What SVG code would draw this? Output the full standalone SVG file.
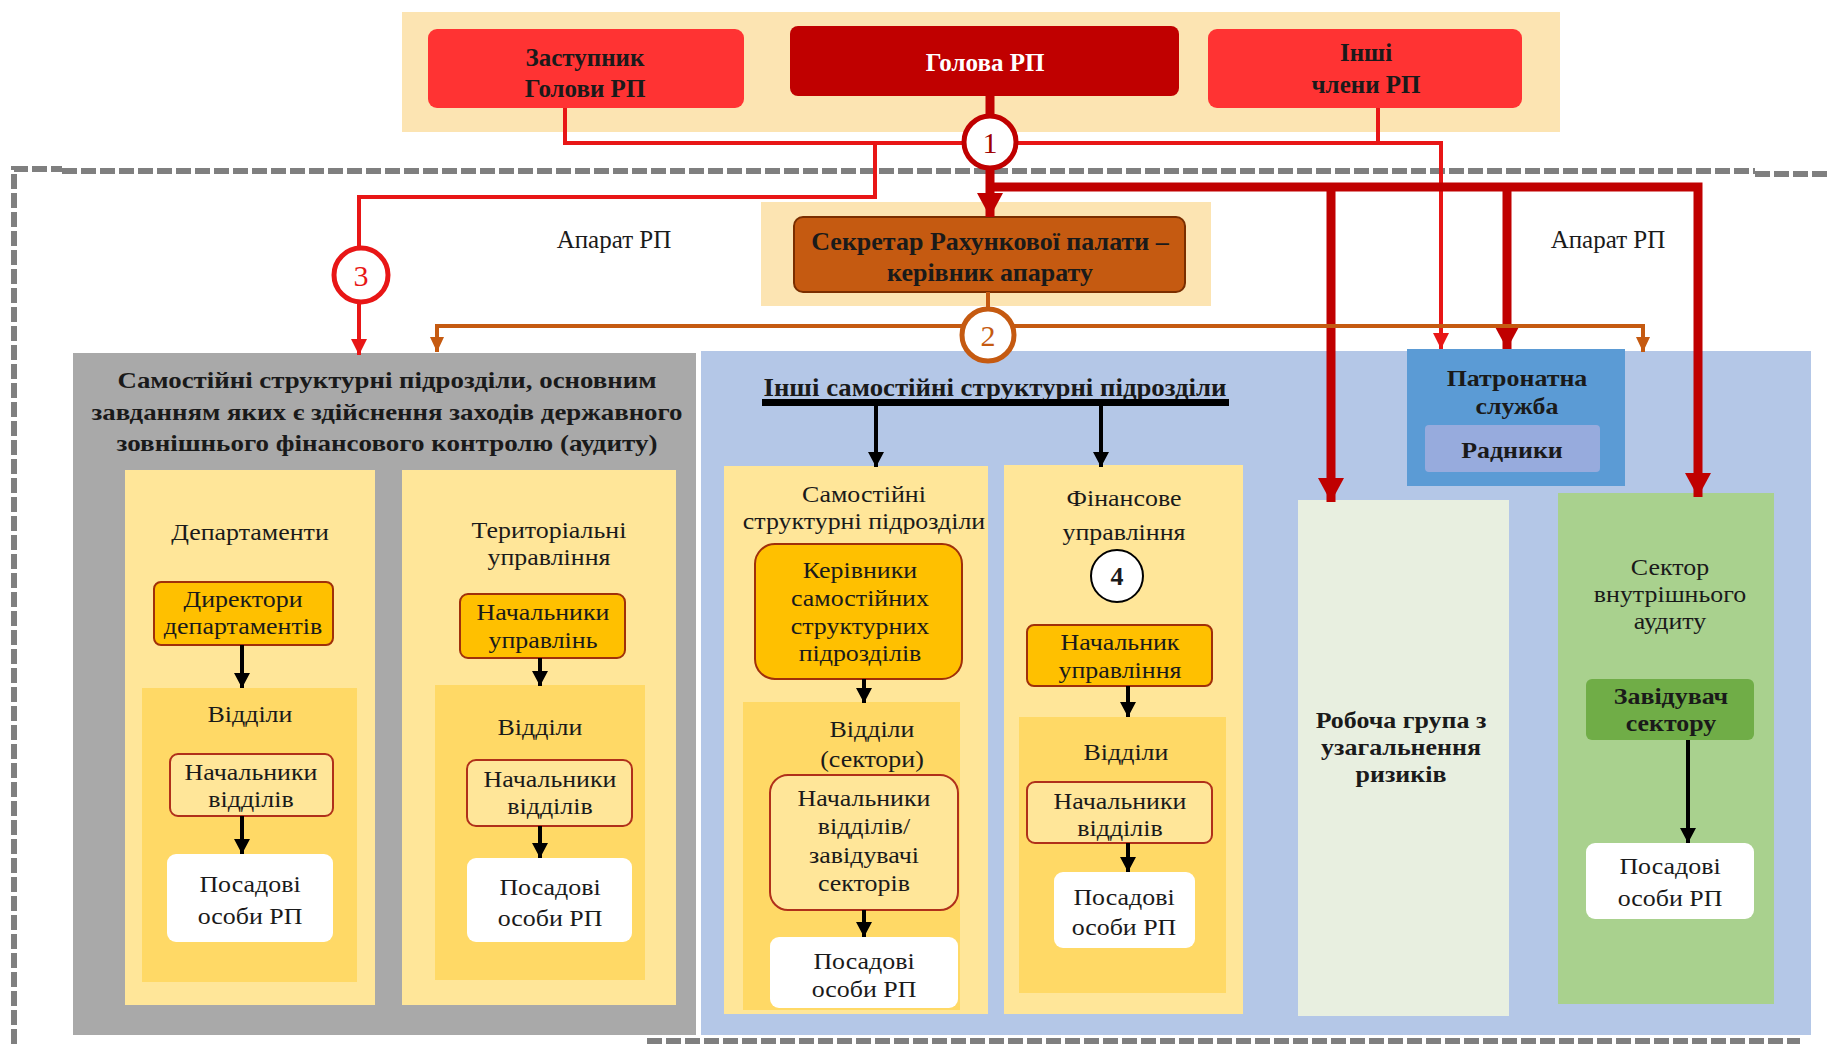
<svg xmlns="http://www.w3.org/2000/svg" width="1829" height="1044" viewBox="0 0 1829 1044">
<style>
text{font-family:"Liberation Serif","Times New Roman",serif;text-anchor:middle;fill:#1a1a1a}
.b{font-weight:bold}
.t25{font-size:25px}
.t26{font-size:26px}
.s{font-size:24px;transform-box:fill-box;transform-origin:center;transform:scaleX(1.08)}
.band{fill:#FCE4B2}
.col{fill:#FFE699}
.inner{fill:#FFD966}
.org{fill:#FFC000;stroke:#A0300A;stroke-width:2}
.head{fill:#FFE699;stroke:#B0301A;stroke-width:2}
.white{fill:#FFFFFF}
.thin{fill:none;stroke:#E81616;stroke-width:4}
.thick{fill:none;stroke:#C00000;stroke-width:9}
.brown{fill:none;stroke:#C55A11;stroke-width:4}
.blk{fill:none;stroke:#000;stroke-width:4}
.dash{fill:none;stroke:#7F7F7F;stroke-width:6;stroke-dasharray:15 4}
</style>
<defs>
<marker id="aThick" markerUnits="userSpaceOnUse" markerWidth="28" markerHeight="28" refX="24" refY="14" orient="auto"><path d="M0,1 L24,14 L0,27 z" fill="#C00000"/></marker>
<marker id="aThin" markerUnits="userSpaceOnUse" markerWidth="18" markerHeight="18" refX="16" refY="9" orient="auto"><path d="M0,1 L16,9 L0,17 z" fill="#E81616"/></marker>
<marker id="aBrown" markerUnits="userSpaceOnUse" markerWidth="16" markerHeight="16" refX="15" refY="8" orient="auto"><path d="M0,1 L15,8 L0,15 z" fill="#C55A11"/></marker>
<marker id="aBlk" markerUnits="userSpaceOnUse" markerWidth="18" markerHeight="18" refX="15" refY="9" orient="auto"><path d="M0,1 L15,9 L0,17 z" fill="#000"/></marker>
</defs>
<rect width="1829" height="1044" fill="#FFFFFF"/>

<!-- dashed frame -->
<g id="apparatus-frame">
<path class="dash" d="M14,1044 L14,169 L62,169 M62,171 L1755,171 M1755,174 L1829,174"/>
<path class="dash" d="M647,1041 L1800,1041"/>
<text class="t25" x="614" y="248">Апарат РП</text>
<text class="t25" x="1608" y="248">Апарат РП</text>
</g>

<!-- top band -->
<rect class="band" x="402" y="12" width="1158" height="120"/>
<rect class="band" x="761" y="202" width="450" height="104"/>

<!-- big panels -->
<rect x="73" y="353" width="623" height="682" fill="#A9A9A9"/>
<rect x="701" y="351" width="1110" height="684" fill="#B4C7E7"/>

<g id="zastupnyk">
<rect x="428" y="29" width="316" height="79" rx="9" fill="#FF3333"/>
<text class="b t25" x="585" y="66" fill="#330000">Заступник</text>
<text class="b t25" x="585" y="97" fill="#330000">Голови РП</text>
</g>
<g id="holova">
<rect x="790" y="26" width="389" height="70" rx="8" fill="#C00000"/>
<text class="b t25" x="985" y="71" style="fill:#FFFFFF">Голова РП</text>
</g>
<g id="inshi-chleny">
<rect x="1208" y="29" width="314" height="79" rx="9" fill="#FF3333"/>
<text class="b t25" x="1366" y="61" fill="#330000">Інші</text>
<text class="b t25" x="1366" y="93" fill="#330000">члени РП</text>
</g>
<g id="sekretar">
<rect x="794" y="217" width="391" height="75" rx="9" fill="#C55A11" stroke="#7A2E00" stroke-width="2"/>
<text class="b t26" x="990" y="250">Секретар Рахункової палати –</text>
<text class="b t26" x="990" y="281">керівник апарату</text>
</g>

<!-- Grey block -->
<g id="audit-units">
<text class="b" font-size="24" x="387" y="388" textLength="539" lengthAdjust="spacingAndGlyphs">Самостійні структурні підрозділи, основним</text>
<text class="b" font-size="24" x="387" y="420" textLength="591" lengthAdjust="spacingAndGlyphs">завданням яких є здійснення заходів державного</text>
<text class="b" font-size="24" x="387" y="451" textLength="541" lengthAdjust="spacingAndGlyphs">зовнішнього фінансового контролю (аудиту)</text>
</g>
<g id="departments">
<rect class="col" x="125" y="470" width="250" height="535"/>
<text class="s" x="250" y="540">Департаменти</text>
<rect class="inner" x="142" y="688" width="215" height="294"/>
<text class="s" x="250" y="722">Відділи</text>
</g>
<g id="dyrektory">
<rect class="org" x="154" y="582" width="179" height="63" rx="7"/>
<text class="s" x="243" y="607">Директори</text>
<text class="s" x="243" y="634">департаментів</text>
</g>
<g id="dep-nachalnyky">
<rect class="head" x="170" y="754" width="163" height="62" rx="8"/>
<text class="s" x="251" y="780">Начальники</text>
<text class="s" x="251" y="807">відділів</text>
</g>
<g id="dep-posadovi">
<rect class="white" x="167" y="854" width="166" height="88" rx="9"/>
<text class="s" x="250" y="892">Посадові</text>
<text class="s" x="250" y="924">особи РП</text>
</g>

<g id="territorial">
<rect class="col" x="402" y="470" width="274" height="535"/>
<text class="s" x="549" y="538">Територіальні</text>
<text class="s" x="549" y="565">управління</text>
<rect class="inner" x="435" y="685" width="210" height="295"/>
<text class="s" x="540" y="735">Відділи</text>
</g>
<g id="nach-upravlin">
<rect class="org" x="460" y="594" width="165" height="64" rx="8"/>
<text class="s" x="543" y="620">Начальники</text>
<text class="s" x="543" y="648">управлінь</text>
</g>
<g id="ter-nachalnyky">
<rect class="head" x="467" y="760" width="165" height="66" rx="9"/>
<text class="s" x="550" y="787">Начальники</text>
<text class="s" x="550" y="814">відділів</text>
</g>
<g id="ter-posadovi">
<rect class="white" x="467" y="858" width="165" height="84" rx="9"/>
<text class="s" x="550" y="895">Посадові</text>
<text class="s" x="550" y="926">особи РП</text>
</g>

<!-- Blue block -->
<g id="other-units">
<text class="b" font-size="25" x="995" y="396" textLength="463" lengthAdjust="spacingAndGlyphs">Інші самостійні структурні підрозділи</text>
<rect x="762" y="399" width="467" height="7" fill="#000"/>
</g>
<g id="samostiini">
<rect class="col" x="724" y="466" width="264" height="548"/>
<text class="s" x="864" y="502">Самостійні</text>
<text class="s" x="864" y="529">структурні підрозділи</text>
<rect class="inner" x="743" y="702" width="217" height="308"/>
<text class="s" x="872" y="737">Відділи</text>
<text class="s" x="872" y="767">(сектори)</text>
</g>
<g id="kerivnyky">
<rect class="org" x="755" y="544" width="207" height="135" rx="20"/>
<text class="s" x="860" y="578">Керівники</text>
<text class="s" x="860" y="606">самостійних</text>
<text class="s" x="860" y="634">структурних</text>
<text class="s" x="860" y="661">підрозділів</text>
</g>
<g id="ss-nachalnyky">
<rect class="head" x="770" y="775" width="188" height="135" rx="18"/>
<text class="s" x="864" y="806">Начальники</text>
<text class="s" x="864" y="834">відділів/</text>
<text class="s" x="864" y="863">завідувачі</text>
<text class="s" x="864" y="891">секторів</text>
</g>
<g id="ss-posadovi">
<rect class="white" x="770" y="937" width="188" height="71" rx="9"/>
<text class="s" x="864" y="969">Посадові</text>
<text class="s" x="864" y="997">особи РП</text>
</g>

<g id="finansove">
<rect class="col" x="1004" y="465" width="239" height="549"/>
<text class="s" x="1124" y="506">Фінансове</text>
<text class="s" x="1124" y="540">управління</text>
<rect class="inner" x="1019" y="717" width="207" height="276"/>
<text class="s" x="1126" y="760">Відділи</text>
<circle cx="1117" cy="576" r="26" fill="#FFFFFF" stroke="#000" stroke-width="2"/>
<text class="b t26" x="1117" y="585">4</text>
</g>
<g id="nach-upravlinnia">
<rect class="org" x="1027" y="625" width="185" height="61" rx="7"/>
<text class="s" x="1120" y="650">Начальник</text>
<text class="s" x="1120" y="678">управління</text>
</g>
<g id="fin-nachalnyky">
<rect class="head" x="1027" y="782" width="185" height="61" rx="8"/>
<text class="s" x="1120" y="809">Начальники</text>
<text class="s" x="1120" y="836">відділів</text>
</g>
<g id="fin-posadovi">
<rect class="white" x="1054" y="872" width="141" height="76" rx="9"/>
<text class="s" x="1124" y="905">Посадові</text>
<text class="s" x="1124" y="935">особи РП</text>
</g>

<g id="patronatna">
<rect x="1407" y="349" width="218" height="137" fill="#5B9BD5"/>
<text class="b s" x="1517" y="386">Патронатна</text>
<text class="b s" x="1517" y="414">служба</text>
<rect x="1425" y="425" width="175" height="47" rx="4" fill="#97ABDD"/>
<text class="b s" x="1512" y="458">Радники</text>
</g>
<g id="robocha">
<rect x="1298" y="500" width="211" height="516" fill="#E8EFE0"/>
<text class="b s" x="1401" y="728">Робоча група з</text>
<text class="b s" x="1401" y="755">узагальнення</text>
<text class="b s" x="1401" y="782">ризиків</text>
</g>
<g id="sektor-audytu">
<rect x="1558" y="493" width="216" height="511" fill="#A9D18E"/>
<text class="s" x="1670" y="575">Сектор</text>
<text class="s" x="1670" y="602">внутрішнього</text>
<text class="s" x="1670" y="629">аудиту</text>
</g>
<g id="zaviduvach">
<rect x="1586" y="679" width="168" height="61" rx="6" fill="#70AD47"/>
<text class="b s" x="1671" y="704">Завідувач</text>
<text class="b s" x="1671" y="731">сектору</text>
</g>
<g id="sektor-posadovi">
<rect class="white" x="1586" y="843" width="168" height="76" rx="9"/>
<text class="s" x="1670" y="874">Посадові</text>
<text class="s" x="1670" y="906">особи РП</text>
</g>

<!-- connectors -->
<g id="connectors">
<path class="thin" d="M565,108 L565,143 L1441,143 L1441,349" marker-end="url(#aThin)"/>
<path class="thin" d="M1378,108 L1378,143"/>
<path class="thin" d="M875,143 L875,197 L359,197 L359,355" marker-end="url(#aThin)"/>
<path class="thick" d="M990,96 L990,217" marker-end="url(#aThick)"/>
<path class="thick" d="M990,187 L1698,187 L1698,497" marker-end="url(#aThick)"/>
<path class="thick" d="M1331,187 L1331,502" marker-end="url(#aThick)"/>
<path class="thick" d="M1507,187 L1507,349" marker-end="url(#aThick)"/>
<path class="brown" d="M988,292 L988,326"/>
<path class="brown" d="M988,326 L437,326 L437,352" marker-end="url(#aBrown)"/>
<path class="brown" d="M988,326 L1643,326 L1643,352" marker-end="url(#aBrown)"/>
<path class="blk" d="M876,406 L876,467" marker-end="url(#aBlk)"/>
<path class="blk" d="M1101,406 L1101,467" marker-end="url(#aBlk)"/>
<path class="blk" d="M242,645 L242,688" marker-end="url(#aBlk)"/>
<path class="blk" d="M242,816 L242,854" marker-end="url(#aBlk)"/>
<path class="blk" d="M540,658 L540,686" marker-end="url(#aBlk)"/>
<path class="blk" d="M540,826 L540,858" marker-end="url(#aBlk)"/>
<path class="blk" d="M864,679 L864,703" marker-end="url(#aBlk)"/>
<path class="blk" d="M864,910 L864,937" marker-end="url(#aBlk)"/>
<path class="blk" d="M1128,686 L1128,717" marker-end="url(#aBlk)"/>
<path class="blk" d="M1128,843 L1128,872" marker-end="url(#aBlk)"/>
<path class="blk" d="M1688,740 L1688,843" marker-end="url(#aBlk)"/>
<g id="badge-1"><circle cx="990" cy="142" r="26" fill="#FFFFFF" stroke="#C00000" stroke-width="5"/><text x="990" y="153" font-size="30" style="fill:#A00000">1</text></g>
<g id="badge-2"><circle cx="988" cy="335" r="26" fill="#FFFFFF" stroke="#C55A11" stroke-width="5"/><text x="988" y="346" font-size="30" style="fill:#C55A11">2</text></g>
<g id="badge-3"><circle cx="361" cy="275" r="27" fill="#FFFFFF" stroke="#E81616" stroke-width="5"/><text x="361" y="286" font-size="30" style="fill:#E81616">3</text></g>
</g>
</svg>
